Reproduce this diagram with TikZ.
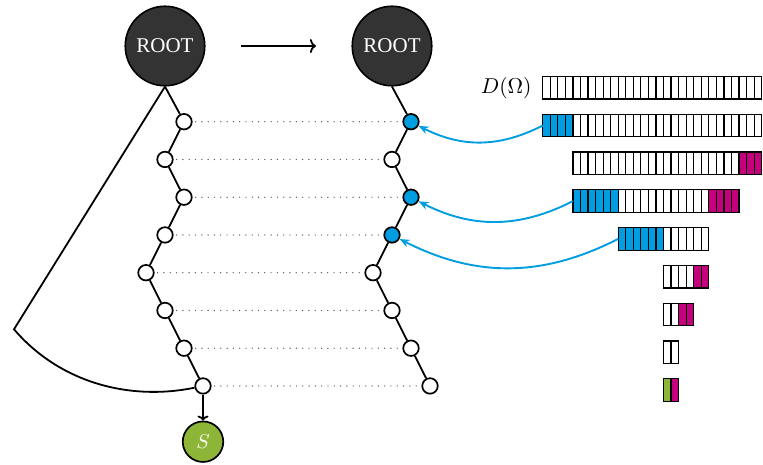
\documentclass[tikz,border=0pt]{standalone}
\usepackage{graphicx}
\usepackage{fontspec}
\newfontfamily\rootfont{Liberation Serif}
\usetikzlibrary{arrows.meta,calc}
\definecolor{rootgray}{RGB}{51,51,51}
\definecolor{cblue}{RGB}{0,157,224}
\definecolor{cmag}{RGB}{196,0,124}
\definecolor{cgreen}{RGB}{141,182,57}
\newcommand\cellrun[4]{%
  \foreach \k in {1,...,#3}{%
    \pgfmathtruncatemacro\cc{#2+\k-1}%
    \node[cell,fill=#4] (r#1c\cc) at ({542.7+(\cc+0.5)*7.55},{87.7+37.8*(#1-1)}) {};
  }}
\begin{document}
\begin{tikzpicture}[x=1pt,y=-1pt,
  rootnode/.style={circle,draw=black,line width=1.6pt,fill=rootgray,minimum size=79.5pt,inner sep=0pt,text=white,font=\rootfont\fontsize{21}{24}\selectfont},
  chainnode/.style={circle,draw=black,line width=1.7pt,fill=white,minimum size=15.5pt,inner sep=0pt},
  bluenode/.style={chainnode,fill=cblue},
  snode/.style={circle,draw=black,line width=1.7pt,fill=cgreen,minimum size=40.5pt,inner sep=0pt,text=white},
  edge/.style={line width=1.8pt},
  dotline/.style={black!65,line width=1.4pt,line cap=round,dash pattern=on 0pt off 6.3pt,shorten <=3pt,shorten >=3pt},
  cell/.style={draw=black,line width=1.2pt,minimum width=7.55pt,minimum height=22.7pt,inner sep=0pt,outer sep=0pt},
  bluearrow/.style={cblue,line width=1.9pt,-{Stealth[length=10pt,width=8pt]}},
]
\useasboundingbox (0,0) rectangle (763,464);

% roots
\node[rootnode] (root1) at (165,46) {ROOT};
\node[rootnode] (root2) at (392,46) {ROOT};
\draw[edge,-{Computer Modern Rightarrow[length=6pt,width=14pt]},shorten <=35.5pt,shorten >=35.5pt] (root1) -- (root2);

% left chain
\foreach \i/\x in {1/184,2/165,3/184,4/165,5/146,6/165,7/184,8/203}{
  \node[chainnode] (n\i) at (\x,{121.7+37.75*(\i-1)}) {};
}
% right chain
\foreach \i/\x in {2/392,5/373,6/392,7/411,8/430}{
  \node[chainnode] (m\i) at (\x,{121.7+37.75*(\i-1)}) {};
}
\foreach \i/\x in {1/411,3/411,4/392}{
  \node[bluenode] (m\i) at (\x,{121.7+37.75*(\i-1)}) {};
}

\draw[edge] (root1.south) -- (n1) -- (n2) -- (n3) -- (n4) -- (n5) -- (n6) -- (n7) -- (n8);
\draw[edge] (root2.south) -- (m1) -- (m2) -- (m3) -- (m4) -- (m5) -- (m6) -- (m7) -- (m8);

\coordinate (tl) at (14,329.3);
\draw[edge] (root1.south) -- (tl) .. controls (60,383) and (130,401) .. (n8);

\foreach \i in {1,...,8}{ \draw[dotline] (n\i) -- (m\i); }

% S
\node[snode] (S) at (203,441.7) {\scalebox{2}{$S$}};
\draw[edge,-{Computer Modern Rightarrow[length=5pt,width=11pt]}] (n8) -- (S);

% arrays
\node[anchor=east,inner sep=0pt] (dlabel) at (531.7,87.7) {\scalebox{2.15}{$D(\Omega)$}};
\cellrun{1}{0}{29}{white}
\cellrun{2}{0}{4}{cblue}
\cellrun{2}{4}{25}{white}
\cellrun{3}{4}{22}{white}
\cellrun{3}{26}{3}{cmag}
\cellrun{4}{4}{6}{cblue}
\cellrun{4}{10}{12}{white}
\cellrun{4}{22}{4}{cmag}
\cellrun{5}{10}{6}{cblue}
\cellrun{5}{16}{6}{white}
\cellrun{6}{16}{4}{white}
\cellrun{6}{20}{2}{cmag}
\cellrun{7}{16}{2}{white}
\cellrun{7}{18}{2}{cmag}
\cellrun{8}{16}{2}{white}
\cellrun{9}{16}{1}{cgreen}
\cellrun{9}{17}{1}{cmag}

% blue arrows
\draw[bluearrow] (r2c0.west) to[bend left=27] (m1);
\draw[bluearrow] (r4c4.west) to[bend left=27] (m3);
\draw[bluearrow] (r5c10.west) to[bend left=27] (m4);
\end{tikzpicture}
\end{document}
